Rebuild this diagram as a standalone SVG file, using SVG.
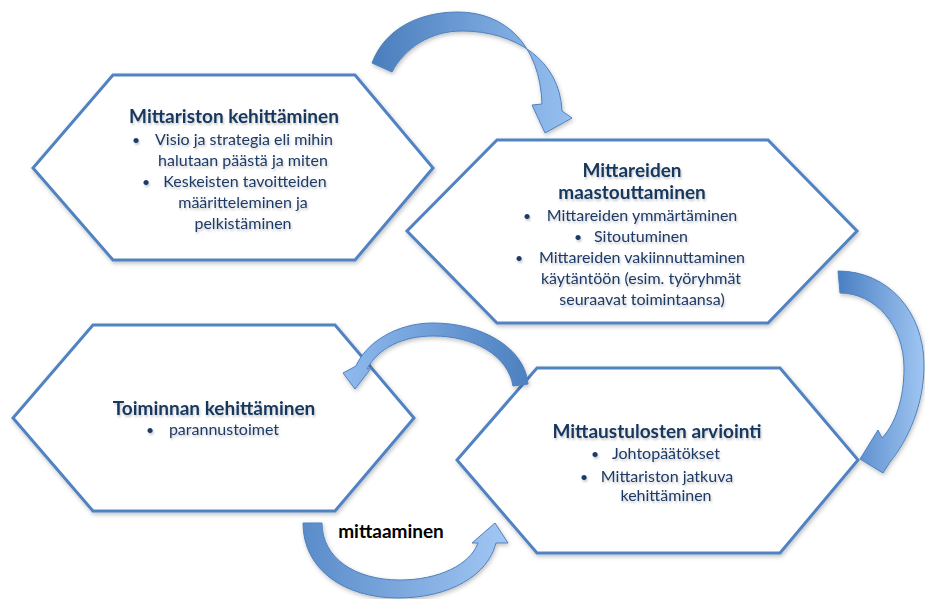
<svg xmlns="http://www.w3.org/2000/svg" width="925" height="599" viewBox="0 0 925 599">
<defs>
<filter id="sh" x="-10%" y="-10%" width="120%" height="130%">
<feDropShadow dx="1" dy="2" stdDeviation="2" flood-color="#000" flood-opacity="0.25"/>
</filter>
<filter id="tsh" x="-5%" y="-20%" width="110%" height="150%">
<feDropShadow dx="1" dy="2" stdDeviation="1.2" flood-color="#000" flood-opacity="0.22"/>
</filter>
<linearGradient id="g1" gradientUnits="userSpaceOnUse" x1="372" y1="0" x2="572" y2="0">
<stop offset="0" stop-color="#4a7dbd"/><stop offset="1" stop-color="#96c0f0"/>
</linearGradient>
<linearGradient id="g2" gradientUnits="userSpaceOnUse" x1="838" y1="0" x2="924" y2="0">
<stop offset="0" stop-color="#4a7fc4"/><stop offset="1" stop-color="#a0c6f2"/>
</linearGradient>
<linearGradient id="g3" gradientUnits="userSpaceOnUse" x1="528" y1="0" x2="343" y2="0">
<stop offset="0" stop-color="#4d80c0"/><stop offset="1" stop-color="#8fbaee"/>
</linearGradient>
<linearGradient id="g4" gradientUnits="userSpaceOnUse" x1="303" y1="0" x2="508" y2="0">
<stop offset="0" stop-color="#5a8cca"/><stop offset="1" stop-color="#a2c7f3"/>
</linearGradient>
</defs>
<style>
.hex{fill:#fff;stroke:#5183c2;stroke-width:3;stroke-linejoin:miter;filter:url(#sh)}
.arr{stroke:#4f81bd;stroke-width:1;filter:url(#sh)}
.t{font-family:Lato,"Open Sans","Liberation Sans",sans-serif;font-weight:bold;font-size:19px;fill:#17375e;text-anchor:middle;filter:url(#tsh)}
.b{font-family:Lato,"Open Sans","Liberation Sans",sans-serif;font-size:16px;fill:#1f3b66;text-anchor:middle;filter:url(#tsh)}
.d{font-family:Lato,"Open Sans","Liberation Sans",sans-serif;font-size:14px;fill:#1f3b66;text-anchor:middle;filter:url(#tsh)}
.m{font-family:Lato,"Open Sans","Liberation Sans",sans-serif;font-weight:bold;font-size:19px;fill:#000;text-anchor:middle}
</style>
<rect width="925" height="599" fill="#fff"/>

<g id="node-mittariston">
<polygon class="hex" points="113,75 355,75 433,168 355,260 113,260 33,168"/>
<text class="t" x="234" y="123">Mittariston kehittäminen</text>
<text class="d" x="136" y="145">•</text>
<text class="b" x="244" y="145">Visio ja strategia eli mihin</text>
<text class="b" x="243" y="166">halutaan päästä ja miten</text>
<text class="d" x="146" y="187">•</text>
<text class="b" x="245" y="187">Keskeisten tavoitteiden</text>
<text class="b" x="243" y="208">määritteleminen ja</text>
<text class="b" x="243" y="229">pelkistäminen</text>
</g>

<g id="node-maastouttaminen">
<polygon class="hex" points="497,140 768,140 857,231 768,323 497,323 407,231"/>
<text class="t" x="632" y="177">Mittareiden</text>
<text class="t" x="632" y="199">maastouttaminen</text>
<text class="d" x="527" y="221">•</text>
<text class="b" x="642" y="221">Mittareiden ymmärtäminen</text>
<text class="d" x="578" y="242">•</text>
<text class="b" x="641" y="242">Sitoutuminen</text>
<text class="d" x="519" y="263">•</text>
<text class="b" x="642" y="263">Mittareiden vakiinnuttaminen</text>
<text class="b" x="641" y="284">käytäntöön (esim. työryhmät</text>
<text class="b" x="642" y="305">seuraavat toimintaansa)</text>
</g>

<g id="node-toiminnan">
<polygon class="hex" points="93,325 335,325 414,418 335,511 93,511 13,418"/>
<text class="t" x="214" y="415">Toiminnan kehittäminen</text>
<text class="d" x="150" y="435">•</text>
<text class="b" x="224" y="435">parannustoimet</text>
</g>

<g id="node-arviointi">
<polygon class="hex" points="537,368 780,368 858,460 780,553 537,553 457,460"/>
<text class="t" x="657" y="438">Mittaustulosten arviointi</text>
<text class="d" x="595" y="459">•</text>
<text class="b" x="666" y="459">Johtopäätökset</text>
<text class="d" x="584" y="482">•</text>
<text class="b" x="667" y="482">Mittariston jatkuva</text>
<text class="b" x="666" y="501">kehittäminen</text>
</g>

<g id="connectors">
<path class="arr" fill="url(#g1)" d="M372,63 C385,28 420,12 458,12 C505,12 540,45 542,104 L532,105 L545,133 L572,118 L562,111 C560,60 515,31 462,31 C430,31 405,48 392,72 Z"/>
<path class="arr" fill="url(#g2)" d="M838,271 C888,271 924,312 924,365 C924,405 908,440 890,462 L883,473 L860,459 L878,430 L882,438 C896,423 904,398 904,368 C904,325 875,293 840,293 Z"/>
<path class="arr" fill="url(#g3)" d="M528,384 C525,348 482,323 433,323 C396,323 366,343 356,366 L343,373 L355,389 L372,367 L367,369 C378,348 403,336 433,336 C475,336 508,356 513,386 Z"/>
<path class="arr" fill="url(#g4)" d="M303,523 C303,570 345,598 398,598 C450,598 488,575 496,543 L508,543 L495,523 L472,543 L478,543 C470,565 438,580 400,580 C355,580 322,558 322,523 Z"/>
<text class="m" x="391" y="538">mittaaminen</text>
</g>
</svg>
